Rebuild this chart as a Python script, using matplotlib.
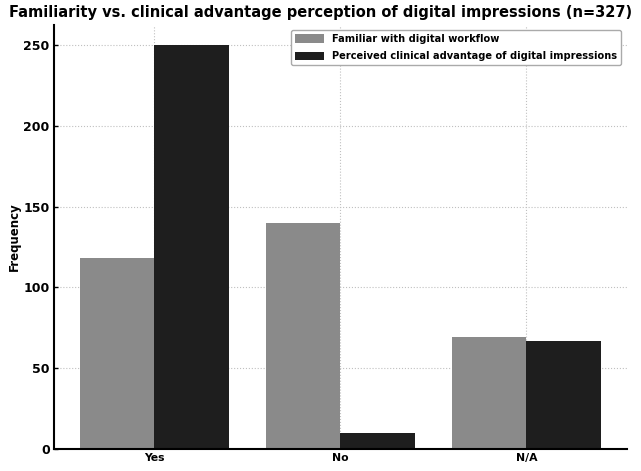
import matplotlib
matplotlib.use("Agg")
import matplotlib.pyplot as plt
import numpy as np

# ── Данные ───────────────────────────────────────────────────────────────
categories = ["Yes", "No", "N/A"]
familiar = [118, 140, 69]
perceived = [250, 10, 67]
series_labels = ["Familiar with digital workflow",
                 "Perceived clinical advantage of digital impressions"]

title = "Familiarity vs. clinical advantage perception of digital impressions (n=327)"


def main():
    fig = plt.figure(figsize=(6.41, 4.71), dpi=100)
    ax = fig.add_axes([0.084, 0.047, 0.894, 0.900])

    x = np.arange(len(categories))
    w = 0.4
    ax.bar(x - w / 2, familiar, w, color="#8a8a8a", label=series_labels[0], zorder=2)
    ax.bar(x + w / 2, perceived, w, color="#1e1e1e", label=series_labels[1], zorder=2)

    ax.set_xticks(x)
    ax.set_xticklabels(categories, fontweight="bold", fontsize=7.8)
    ax.set_yticks([0, 50, 100, 150, 200, 250])
    for lbl in ax.get_yticklabels():
        lbl.set_fontweight("bold")
        lbl.set_fontsize(9)
    ax.set_ylabel("Frequency", fontsize=8.5, fontweight="bold", labelpad=2)
    fig.text(0.5, 0.973, title, ha="center", va="center",
             fontsize=10.5, fontweight="bold")

    ax.grid(True, linestyle=":", color="#c0c0c0", lw=0.8, zorder=0)
    ax.set_axisbelow(True)
    for s in ["top", "right"]:
        ax.spines[s].set_visible(False)
    ax.spines["left"].set_linewidth(1.5)
    ax.spines["bottom"].set_linewidth(1.5)
    ax.tick_params(axis="both", length=3, width=1, direction="in", pad=3)

    ax.legend(loc="upper right", prop={"weight": "bold", "size": 7.1},
              framealpha=1, edgecolor="#aaaaaa", handlelength=3.0,
              handleheight=0.9, labelspacing=0.75,
              bbox_to_anchor=(0.999, 1.0))

    fig.savefig("out.png", dpi=100)
    plt.close(fig)


if __name__ == "__main__":
    main()
